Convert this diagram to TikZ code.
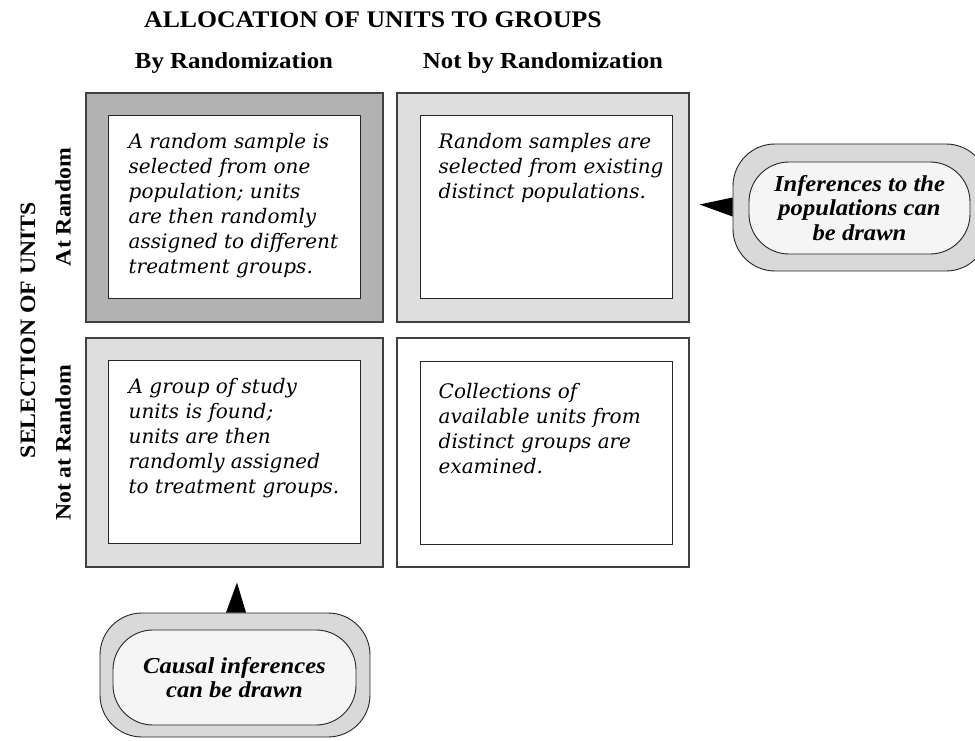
\documentclass[tikz,border=0pt]{standalone}
\usepackage{fontspec}
\setmainfont{Liberation Serif}[FakeStretch=1.08]
\newfontfamily\boxfont{DejaVu Serif}
\usetikzlibrary{calc}

\begin{document}
\begin{tikzpicture}[
  x=1pt, y=-1pt,
  cell/.style={draw=black!75, line width=1.1pt, inner sep=0pt,
    minimum height=229pt},
  card/.style={draw=black!85, fill=white, line width=1pt, inner sep=0pt,
    minimum width=252pt, minimum height=183pt},
  cardtext/.style={anchor=north west, inner sep=0pt, align=left,
    font=\boxfont\itshape\fontsize{20}{25}\selectfont},
  head/.style={font=\bfseries\fontsize{23}{27}\selectfont},
  side/.style={rotate=90, font=\bfseries\fontsize{22}{27}\selectfont},
  bubble/.style={draw=black!85, line width=0.9pt, fill=black!15,
    rounded corners=42pt, inner sep=0pt},
  bubblein/.style={draw=black!85, line width=0.9pt, fill=black!4,
    rounded corners=40pt, inner sep=0pt, align=center,
    font=\bfseries\itshape\fontsize{22.8}{24.5}\selectfont},
  ]
  \useasboundingbox (0,0) rectangle (975,741);

  % headings
  \node[head, font=\bfseries\fontsize{23.8}{27}\selectfont] (title) at (373,20)
    {ALLOCATION OF UNITS TO GROUPS};
  \node[head] (hby) at (234,63) {By Randomization};
  \node[head] (hnot) at (543,63) {Not by Randomization};
  \node[side] (sel) at (28,330) {SELECTION OF UNITS};
  \node[side] (sat) at (63,207) {At Random};
  \node[side] (snot) at (63,443) {Not at Random};

  % the four cells: rr = at random / by randomization, etc.
  \node[cell, fill=black!30, minimum width=297pt] (rr) at (234.5,207.5) {};
  \node[cell, fill=black!13, minimum width=292pt] (rn) at (543,207.5) {};
  \node[cell, fill=black!13, minimum width=297pt] (nr) at (234.5,452.5) {};
  \node[cell, fill=white, minimum width=292pt] (nn) at (543,452.5) {};

  % inner cards
  \node[card] (rrc) at (234,207) {};
  \node[card] (rnc) at (546,207) {};
  \node[card] (nrc) at (234,452) {};
  \node[card] (nnc) at (546,452.5) {};

  % card texts
  \node[cardtext] (rrt) at ([xshift=21pt, yshift=-18pt]rrc.north west)
    {A random sample is\\selected from one\\population; units\\are then randomly\\assigned to different\\treatment groups.};
  \node[cardtext] (rnt) at ([xshift=19pt, yshift=-18pt]rnc.north west)
    {Random samples are\\selected from existing\\distinct populations.};
  \node[cardtext] (nrt) at ([xshift=21pt, yshift=-18pt]nrc.north west)
    {A group of study\\units is found;\\units are then\\randomly assigned\\to treatment groups.};
  \node[cardtext] (nnt) at ([xshift=19pt, yshift=-23pt]nnc.north west)
    {Collections of\\available units from\\distinct groups are\\examined.};

  % callouts
  \node[bubble, minimum width=255pt, minimum height=127pt] (inf) at (860.5,207.5) {};
  \node[bubblein, minimum width=221pt, minimum height=92pt] (infin) at (859.5,208)
    {Inferences to the\\populations can\\be drawn};
  \node[bubble, minimum width=270pt, minimum height=124pt] (cau) at (235,675) {};
  \node[bubblein, minimum width=243pt, minimum height=95pt] (cauin) at (234.5,677.5)
    {Causal inferences\\can be drawn};

  % pointers
  \coordinate (tipR) at ($(inf.west)+(-33,-3)$);
  \coordinate (tipB) at ($(cau.north)+(2,-30)$);
  \fill ($(inf.west)+(0,-10)$) -- (tipR) -- ($(inf.west)+(0,9)$) -- cycle;
  \fill ($(cau.north)+(-9,0)$) -- (tipB) -- ($(cau.north)+(11,0)$) -- cycle;
\end{tikzpicture}
\end{document}
